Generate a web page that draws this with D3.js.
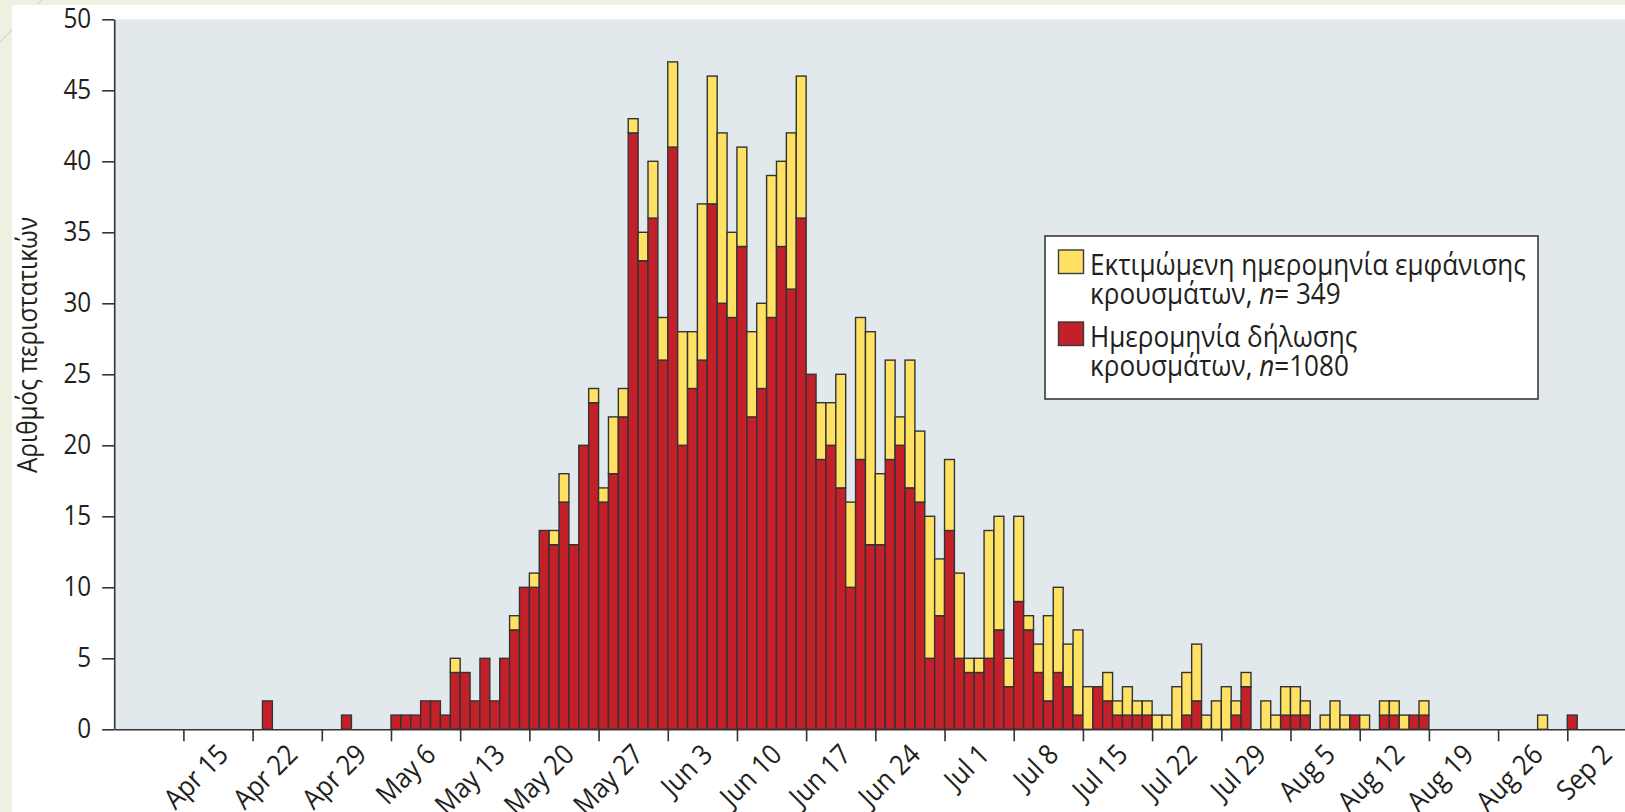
<!DOCTYPE html>
<html>
<head>
<meta charset="utf-8">
<script src="https://cdn.jsdelivr.net/npm/d3@7"></script>
<style>
  html, body { margin: 0; padding: 0; background: #eef1e1; }
  svg { display: block; }
  text { font-family: "Open Sans", "Noto Sans", sans-serif; fill: #231f20; }
</style>
</head>
<body>
<svg id="chart" width="1625" height="812"></svg>
<script>
// ---------- data ----------
const year = "2014";
const days = ["04-23","05-01","05-06","05-07","05-08","05-09","05-10","05-11","05-12","05-13",
  "05-14","05-15","05-16","05-17","05-18","05-19","05-20","05-21","05-22","05-23",
  "05-24","05-25","05-26","05-27","05-28","05-29","05-30","05-31","06-01","06-02",
  "06-03","06-04","06-05","06-06","06-07","06-08","06-09","06-10","06-11","06-12",
  "06-13","06-14","06-15","06-16","06-17","06-18","06-19","06-20","06-21","06-22",
  "06-23","06-24","06-25","06-26","06-27","06-28","06-29","06-30","07-01","07-02",
  "07-03","07-04","07-05","07-06","07-07","07-08","07-09","07-10","07-11","07-12",
  "07-13","07-14","07-15","07-16","07-17","07-18","07-19","07-20","07-21","07-22",
  "07-23","07-24","07-25","07-26","07-27","07-28","07-29","07-30","07-31","08-02",
  "08-03","08-04","08-05","08-06","08-08","08-09","08-10","08-11","08-12","08-14",
  "08-15","08-16","08-17","08-18","08-30","09-02"];
// Ημερομηνία δήλωσης (red)
const reported = [2,1,1,1,1,2,2,1,4,4,
  2,5,2,5,7,10,10,14,13,16,
  13,20,23,16,18,22,42,33,36,26,
  41,20,24,26,37,30,29,34,22,24,
  29,34,31,36,25,19,20,17,10,19,
  13,13,19,20,17,16,5,8,14,5,
  4,4,5,7,3,9,7,4,2,4,
  3,1,0,3,2,1,1,1,1,0,
  0,0,1,2,0,0,0,1,3,0,
  0,1,1,1,0,0,0,1,0,1,
  1,0,1,1,0,1];
// Εκτιμώμενη ημερομηνία εμφάνισης (yellow)
const estimated = [0,0,0,0,0,0,0,0,1,0,
  0,0,0,0,1,0,1,0,1,2,
  0,0,1,1,4,2,1,2,4,3,
  6,8,4,11,9,12,6,7,6,6,
  10,6,11,10,0,4,3,8,6,10,
  15,5,7,2,9,5,10,4,5,6,
  1,1,9,8,2,6,1,2,6,6,
  3,6,3,0,2,1,2,1,1,1,
  1,3,3,4,1,2,3,1,1,2,
  1,2,2,1,1,2,1,0,1,1,
  1,1,0,1,1,0];
const tickLabels = ["Apr 15","Apr 22","Apr 29","May 6","May 13","May 20","May 27","Jun 3",
  "Jun 10","Jun 17","Jun 24","Jul 1","Jul 8","Jul 15","Jul 22","Jul 29","Aug 5","Aug 12",
  "Aug 19","Aug 26","Sep 2"];
const yTicks = [0,5,10,15,20,25,30,35,40,45,50];
const yTitle = "Αριθμός περιστατικών";
const legendItems = [
  {line1: "Εκτιμώμενη ημερομηνία εμφάνισης", line2a: "κρουσμάτων, ", line2b: "= 349", color: "#ffe264"},
  {line1: "Ημερομηνία δήλωσης", line2a: "κρουσμάτων, ", line2b: "=1080", color: "#c4202a"}
];

// ---------- setup ----------
const SX = 0.9; // horizontal glyph compression to mimic the narrow humanist face
const parse = d3.utcParse("%Y %b %d");
const parseISO = d3.utcParse("%Y-%m-%d");
const svg = d3.select("#chart");
const W = 1625, H = 812;

// page decoration
svg.append("rect").attr("width", W).attr("height", H).attr("fill", "#eef1e1");
svg.append("line").attr("x1", 0).attr("y1", 42).attr("x2", 42).attr("y2", 0)
  .attr("stroke", "#d6dcc4").attr("stroke-width", 1.2);
svg.append("rect").attr("x", 12).attr("y", 5).attr("width", W - 12).attr("height", H - 5).attr("fill", "#ffffff");

const x0 = 114.2, dayW = 9.885;
const xStart = parseISO(year + "-04-08"), xEnd = parseISO(year + "-09-08");
const nDays = d3.utcDay.count(xStart, xEnd);
const x = d3.scaleUtc().domain([xStart, xEnd]).range([x0, x0 + nDays * dayW]);
const y = d3.scaleLinear().domain([0, 50]).range([729.3, 19.3]);

// plot background
svg.append("rect").attr("x", x0).attr("y", y(50)).attr("width", W - x0).attr("height", y(0) - y(50))
  .attr("fill", "#e1e9ec");

// bars
const data = days.map((d, i) => ({
  date: parseISO(year + "-" + d), r: reported[i], e: estimated[i]
}));
const bars = svg.append("g");
const stroke = "#333333";
data.forEach(d => {
  const xa = x(d.date), xb = x(d3.utcDay.offset(d.date, 1));
  if (d.r > 0) {
    bars.append("rect").attr("x", xa).attr("width", xb - xa)
      .attr("y", y(d.r)).attr("height", y(0) - y(d.r))
      .attr("fill", "#c4202a").attr("stroke", stroke).attr("stroke-width", 1.4);
  }
  if (d.e > 0) {
    bars.append("rect").attr("x", xa).attr("width", xb - xa)
      .attr("y", y(d.r + d.e)).attr("height", y(d.r) - y(d.r + d.e))
      .attr("fill", "#ffe264").attr("stroke", stroke).attr("stroke-width", 1.4);
  }
});

// y axis
const yAxis = svg.append("g").attr("transform", `translate(${x0},0)`)
  .call(d3.axisLeft(y).tickValues(yTicks).tickSize(12).tickPadding(11).tickSizeOuter(0));
yAxis.select(".domain").attr("stroke", "#333").attr("stroke-width", 1.6);
yAxis.selectAll(".tick line").attr("stroke", "#333").attr("stroke-width", 1.6);
yAxis.selectAll(".tick text").attr("font-size", 27).attr("font-family", null)
  .attr("fill", "#231f20")
  .attr("x", -23 / SX)
  .attr("transform", `scale(${SX},1)`);

// x axis
const tickDates = tickLabels.map(t => parse(year + " " + t));
const xAxis = svg.append("g").attr("transform", `translate(0,${y(0)})`)
  .call(d3.axisBottom(x).tickValues(tickDates).tickSize(12).tickSizeOuter(0)
    .tickFormat((d, i) => tickLabels[i]));
xAxis.select(".domain").attr("stroke", "#333").attr("stroke-width", 1.6);
xAxis.selectAll(".tick line").attr("stroke", "#333").attr("stroke-width", 1.6);
xAxis.selectAll(".tick text")
  .attr("x", null).attr("y", null).attr("dy", null)
  .attr("text-anchor", "end").attr("font-size", 28).attr("font-family", null)
  .attr("fill", "#231f20")
  .attr("transform", `translate(46,27) rotate(-45) scale(${SX},1)`);

// y title
svg.append("text").attr("transform", `translate(37,345) rotate(-90) scale(${SX},1)`)
  .attr("text-anchor", "middle").attr("font-size", 27).text(yTitle);

// legend
const lg = svg.append("g");
lg.append("rect").attr("x", 1045).attr("y", 236).attr("width", 493).attr("height", 163)
  .attr("fill", "#ffffff").attr("stroke", "#3a3a3a").attr("stroke-width", 1.6);
legendItems.forEach((it, i) => {
  const top = 250 + i * 72;
  lg.append("rect").attr("x", 1058.5).attr("y", top).attr("width", 25).attr("height", 23.5)
    .attr("fill", it.color).attr("stroke", "#3a3a3a").attr("stroke-width", 1.4);
  lg.append("text").attr("transform", `translate(1090,${top + 24.5}) scale(${SX},1)`)
    .attr("font-size", 29).text(it.line1);
  const t2 = lg.append("text").attr("transform", `translate(1090,${top + 54}) scale(${SX},1)`)
    .attr("font-size", 29);
  t2.append("tspan").text(it.line2a);
  t2.append("tspan").attr("font-style", "italic").text("n");
  t2.append("tspan").text(it.line2b);
});
</script>
</body>
</html>
